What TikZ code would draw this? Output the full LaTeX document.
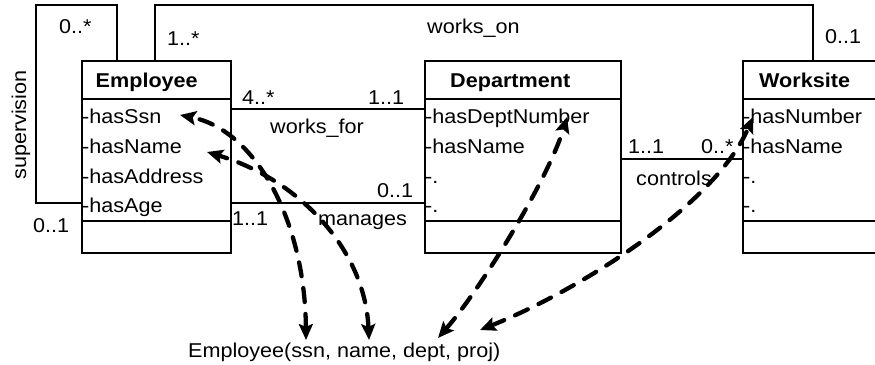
\documentclass[tikz,border=0pt]{standalone}
\usepackage{fontspec}
\setmainfont[FakeStretch=1.08]{Liberation Sans}
\usetikzlibrary{arrows.meta,calc}
\begin{document}
\begin{tikzpicture}[x=1pt,y=-1pt, font=\fontsize{20}{24}\selectfont,
  box/.style={draw, line width=2pt, anchor=north west, inner sep=0pt},
  ln/.style={line width=2pt},
  txt/.style={anchor=base west, inner sep=0pt},
  hdr/.style={anchor=base west, inner sep=0pt, font=\fontsize{20}{24}\selectfont\bfseries},
  mapping/.style={line width=4.3pt, line cap=round, dash pattern=on 14pt off 12pt,
    {Stealth[length=16pt,width=14pt,inset=3pt]}-{Stealth[length=16pt,width=14pt,inset=3pt]}}]
\useasboundingbox (0,0) rectangle (875,364);
\clip (0,0) rectangle (875,364);

% class boxes
\node[box, minimum width=149pt, minimum height=192pt] (emp) at (81,60) {};
\node[box, minimum width=196pt, minimum height=192pt] (dep) at (424,60) {};
\node[box, minimum width=200pt, minimum height=192pt] (ws) at (742,60) {};
\foreach \b in {emp,dep,ws}{
  \draw[ln] (\b.west |- 0,99) -- (\b.east |- 0,99);
  \draw[ln] (\b.west |- 0,221) -- (\b.east |- 0,221);
}

% headers
\node[hdr] (empH) at (95.5,87) {Employee};
\node[hdr] (depH) at (450,87) {Department};
\node[hdr] (wsH) at (759,87) {Worksite};

% attributes
\node[txt] (eSsn) at (82,123) {-hasSsn};
\node[txt] (eName) at (82,153) {-hasName};
\node[txt] (eAddr) at (82,183) {-hasAddress};
\node[txt] (eAge) at (82,212) {-hasAge};
\node[txt] (dNum) at (425,123) {-hasDeptNumber};
\node[txt] (dName) at (425,153) {-hasName};
\node[txt] (dA) at (425,183) {-.};
\node[txt] (dB) at (425,212) {-.};
\node[txt] (wNum) at (743,123) {-hasNumber};
\node[txt] (wName) at (743,153) {-hasName};
\node[txt] (wA) at (743,183) {-.};
\node[txt] (wB) at (743,212) {-.};

% associations
\draw[ln] (emp.north -| 117,0) -- (117,5) -- (36,5) -- (36,203) -- (emp.west |- 0,203);
\draw[ln] (emp.north -| 155,0) -- (155,5) -- (813,5) -- (ws.north -| 813,0);
\draw[ln] (emp.east |- 0,109) -- (dep.west |- 0,109);
\draw[ln] (emp.east |- 0,203) -- (dep.west |- 0,203);
\draw[ln] (dep.east |- 0,159) -- (ws.west |- 0,159);

% association labels
\node[anchor=base, inner sep=0pt, rotate=90] (sup) at (26,125) {supervision};
\node[txt] (m1) at (59,33) {0..*};
\node[txt] (m2) at (33,232) {0..1};
\node[txt] (m3) at (167,45) {1..*};
\node[txt] (won) at (427,33) {works\_on};
\node[txt] (m4) at (825,43) {0..1};
\node[txt] (m5) at (242,104) {4..*};
\node[txt] (m6) at (368,104) {1..1};
\node[txt] (wfor) at (270,133) {works\_for};
\node[txt] (m7) at (377,197) {0..1};
\node[txt] (m8) at (232,225) {1..1};
\node[txt] (man) at (318,225) {manages};
\node[txt] (m9) at (628,153) {1..1};
\node[txt] (m10) at (701,153) {0..*};
\node[txt] (ctl) at (636,185) {controls};

% relation
\node[txt] (rel) at (188,357) {Employee(ssn, name, dept, proj)};

% mapping arrows
\coordinate (tSsn) at (180,115);
\coordinate (tName) at (207,152);
\coordinate (tDept) at (567,117);
\coordinate (tNum) at (753,117);
\coordinate (bSsn) at (306,340);
\coordinate (bName) at (369,340);
\coordinate (bDept) at (438,338);
\coordinate (bProj) at (480,330);
\draw[mapping] (bSsn) .. controls (305,220) and (255,130) .. (tSsn);
\draw[mapping] (bName) .. controls (365,250) and (300,180) .. (tName);
\draw[mapping] (bDept) .. controls (480,290) and (548,180) .. (tDept);
\draw[mapping] (bProj) .. controls (580,290) and (715,205) .. (tNum);
\end{tikzpicture}
\end{document}
